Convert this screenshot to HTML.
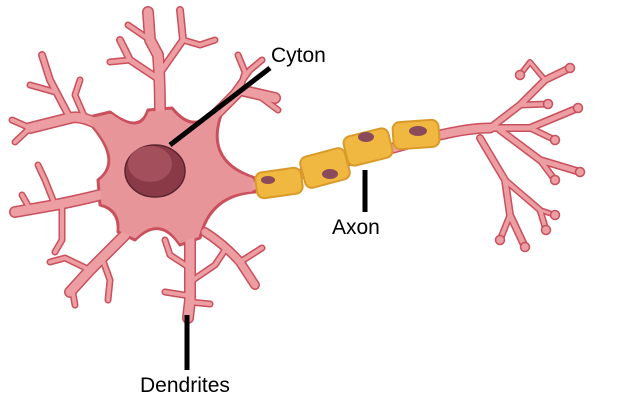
<!DOCTYPE html>
<html><head><style>
html,body{margin:0;padding:0;background:#fff;width:626px;height:404px;overflow:hidden}
text{font-family:"Liberation Sans",sans-serif;font-size:21px;fill:#000}
</style></head><body>
<svg id="s" width="626" height="404" viewBox="0 0 626 404" xmlns="http://www.w3.org/2000/svg">
<g id="o" fill="none" stroke="#c9505c" stroke-linecap="round" stroke-linejoin="round"></g>
<path d="M85,118 L110,112 Q140,135 148,110 L172,108 Q190,130 205,118 L225,105 Q200,160 255,178 L255,192 Q210,195 200,238 L180,245 Q160,215 135,240 L118,232 Q120,210 100,205 L98,180 Q125,160 85,118 Z" fill="#e8959a" stroke="#c9505c" stroke-width="3" stroke-linejoin="round"/>
<g id="f" fill="none" stroke="#ec9ea2" stroke-linecap="round" stroke-linejoin="round"></g>
<path d="M85,118 L110,112 Q140,135 148,110 L172,108 Q190,130 205,118 L225,105 Q200,160 255,178 L255,192 Q210,195 200,238 L180,245 Q160,215 135,240 L118,232 Q120,210 100,205 L98,180 Q125,160 85,118 Z" fill="#e8959a" stroke="none" transform="translate(160 175) scale(0.97) translate(-160 -175)"/>
<g id="bulbs" fill="#ec9ea2" stroke="#c9505c" stroke-width="1.5"></g>
<ellipse cx="155" cy="171" rx="30" ry="26" fill="#8a3a47" stroke="#5a2530" stroke-width="1.5"/>
<ellipse cx="150" cy="164" rx="22" ry="18" fill="#a4505c"/>
<g stroke="#d99a2a" stroke-width="2" fill="#f0b840">
<rect x="256" y="170" width="46" height="26" rx="7" transform="rotate(-8 279 183)"/>
<rect x="302" y="152" width="46" height="32" rx="7" transform="rotate(-15 325 168)"/>
<rect x="345" y="132" width="46" height="30" rx="7" transform="rotate(-14 368 147)"/>
<rect x="393" y="121" width="46" height="27" rx="7" transform="rotate(-4 416 134)"/>
</g>
<g fill="#8a4a5a">
<ellipse cx="268" cy="180" rx="7" ry="4"/>
<ellipse cx="330" cy="174" rx="8" ry="5"/>
<ellipse cx="366" cy="137" rx="8" ry="5"/>
<ellipse cx="418" cy="131" rx="9" ry="5"/>
</g>
<g stroke="#000" stroke-width="5" stroke-linecap="butt">
<line x1="270" y1="68" x2="170" y2="145"/>
<line x1="365" y1="170" x2="365" y2="212"/>
<line x1="187" y1="315" x2="187" y2="370"/>
</g>
<text x="271" y="62">Cyton</text>
<text x="332" y="234">Axon</text>
<text x="140" y="392">Dendrites</text>
</svg>
<script>
var B=[
[9,"M100,125 Q80,115 70,118 L30,128"],[5,"M70,118 L50,80 L42,55"],[4,"M55,92 L30,85"],[4,"M30,128 L12,120"],[4,"M30,128 L15,142"],[4,"M85,118 L75,95 L80,80"],
[9,"M160,115 Q160,80 158,55 L150,40 L148,12"],[4,"M150,40 L128,25"],[5,"M162,70 L183,40 L180,10"],[4,"M183,40 L200,45 L215,40"],[5,"M157,78 L130,60 L120,40"],[4,"M130,60 L110,62"],
[9,"M215,115 Q230,100 240,90 L275,98"],[4,"M240,90 L245,72 L238,55"],[4,"M258,95 L278,110"],[4,"M232,95 L250,70 L262,60"],
[9,"M100,195 Q80,200 55,205 L15,212"],[4,"M55,205 L45,180 L38,165"],[4,"M62,205 L62,240 L55,252"],[4,"M30,209 L22,195"],
[9,"M125,235 Q110,250 90,270 L70,292"],[4,"M90,270 L65,258 L50,262"],[4,"M102,258 L110,280 L108,300"],[4,"M72,288 L75,305"],
[9,"M190,240 Q190,270 190,300 L188,318"],[4,"M190,282 L215,265 L225,250"],[4,"M190,268 L170,255 L165,240"],[4,"M190,302 L210,304"],[4,"M190,296 L165,292"],
[7,"M205,232 Q225,245 240,262 L255,285"],[4,"M240,262 L262,248"],
[8,"M250,186 L262,185 L440,135 Q470,128 490,128"],[5,"M490,128 L520,105 L545,80 L570,68"],[4,"M520,105 L548,104"],[3,"M545,80 L530,62 L520,75"],
[5,"M490,128 L530,128 L578,108"],[4,"M530,128 L555,140"],[5,"M500,130 L540,160 L580,172"],[4,"M540,160 L555,180"],
[5,"M480,138 L505,180 L510,215 L525,247"],[4,"M505,180 L540,210 L546,230"],[4,"M510,215 L500,240"],[3,"M540,210 L555,215"]];
var ns="http://www.w3.org/2000/svg",o=document.getElementById("o"),f=document.getElementById("f"),bl=document.getElementById("bulbs");
B.forEach(function(b){[[o,b[0]+3],[f,b[0]]].forEach(function(g){var p=document.createElementNS(ns,"path");p.setAttribute("d",b[1]);p.setAttribute("stroke-width",g[1]);g[0].appendChild(p);});});
[[570,68],[578,108],[580,172],[555,180],[525,247],[546,230],[500,240],[555,215],[548,104],[520,75],[555,140]].forEach(function(c){var e=document.createElementNS(ns,"circle");e.setAttribute("cx",c[0]);e.setAttribute("cy",c[1]);e.setAttribute("r",4.5);bl.appendChild(e);});
</script>
</body></html>
